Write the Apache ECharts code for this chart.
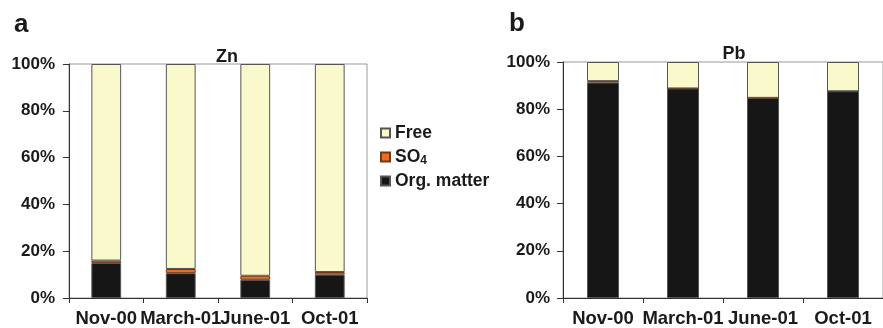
<!DOCTYPE html>
<html>
<head>
<meta charset="utf-8">
<script src="https://cdn.jsdelivr.net/npm/echarts@6/dist/echarts.min.js"></script>
<style>html,body{margin:0;padding:0;background:#fff}#c{width:883px;height:328px}</style>
</head>
<body>
<div id="c"></div>
<script>
var categories = ['Nov-00', 'March-01', 'June-01', 'Oct-01'];
var yTicks = [0, 20, 40, 60, 80, 100];
// Zn (panel a), percent
var znOrg = [15.0, 10.6, 7.8, 10.0];
var znSO4 = [1.0, 1.8, 1.7, 1.1];
var znFree = [84.0, 87.6, 90.5, 88.9];
// Pb (panel b), percent
var pbOrg = [91.3, 88.8, 84.8, 87.6];
var pbSO4 = [0.6, 0.0, 0.0, 0.0];
var pbFree = [8.1, 11.2, 15.2, 12.4];

var FONT = 'Liberation Sans, Arial, sans-serif';
var TXT = '#1a1a1a';
var colFree = '#FAF9CC', colSO4 = '#F26A21', colOrg = '#161616';

function xAxis(idx) {
  return {
    type: 'category', gridIndex: idx, data: categories,
    axisLine: {lineStyle: {color: '#333', width: 1}},
    axisTick: {show: true, alignWithLabel: false, length: 5, lineStyle: {color: '#333'}},
    axisLabel: {color: TXT, fontFamily: FONT, fontWeight: 'bold', fontSize: 18.5, margin: 11, interval: 0}
  };
}
function yAxis(idx, m) {
  return {
    type: 'value', gridIndex: idx, min: yTicks[0], max: yTicks[yTicks.length - 1], interval: 20,
    axisLine: {show: true, lineStyle: {color: '#333', width: 1}},
    axisTick: {show: true, length: 6, lineStyle: {color: '#333'}},
    splitLine: {show: false},
    axisLabel: {color: TXT, fontFamily: FONT, fontWeight: 'bold', fontSize: 17, margin: m, formatter: '{value}%'}
  };
}
function bar(name, data, idx, color, border) {
  return {
    name: name, type: 'bar', stack: 's' + idx, xAxisIndex: idx, yAxisIndex: idx,
    data: data, barWidth: '40%',
    itemStyle: {color: color, borderColor: border, borderWidth: 1},
    emphasis: {disabled: true}
  };
}

var chart = echarts.init(document.getElementById('c'));
chart.setOption({
  animation: false,
  title: [
    {text: 'a', left: 9, top: 7, textStyle: {fontFamily: FONT, fontWeight: 'bold', fontSize: 26, color: TXT}},
    {text: 'b', left: 504, top: 6, textStyle: {fontFamily: FONT, fontWeight: 'bold', fontSize: 26, color: TXT}},
    {text: 'Zn', left: 222, top: 43, textAlign: 'center', textStyle: {fontFamily: FONT, fontWeight: 'bold', fontSize: 18, color: TXT}},
    {text: 'Pb', left: 729, top: 40, textAlign: 'center', textStyle: {fontFamily: FONT, fontWeight: 'bold', fontSize: 18, color: TXT}}
  ],
  legend: {
    orient: 'vertical', left: 380, top: 123, itemWidth: 9, itemHeight: 9, itemGap: 4, padding: 0,
    icon: 'rect', selectedMode: false,
    data: ['Free', 'SO4', 'Org. matter'],
    formatter: function (n) { return n === 'SO4' ? 'SO{sub|4}' : n; },
    textStyle: {
      fontFamily: FONT, fontWeight: 'bold', fontSize: 17.5, color: TXT, lineHeight: 20, padding: [0, 0, 0, 0],
      rich: {sub: {fontFamily: FONT, fontWeight: 'bold', fontSize: 12, color: TXT, verticalAlign: 'bottom', padding: [8, 0, 0, 0], lineHeight: 20}}
    }
  },
  grid: [
    {left: 69, top: 64, width: 298, height: 237, show: true, borderColor: '#999', borderWidth: 1},
    {left: 563, top: 62, width: 325, height: 239, show: true, borderColor: '#999', borderWidth: 1}
  ],
  xAxis: [xAxis(0), xAxis(1)],
  yAxis: [yAxis(0, 14), yAxis(1, 13)],
  series: [
    bar('Org. matter', znOrg, 0, colOrg, '#555'),
    bar('SO4', znSO4, 0, colSO4, '#6b3a1a'),
    bar('Free', znFree, 0, colFree, '#555'),
    bar('Org. matter', pbOrg, 1, colOrg, '#555'),
    bar('SO4', pbSO4, 1, colSO4, '#6b3a1a'),
    bar('Free', pbFree, 1, colFree, '#555')
  ]
});
</script>
</body>
</html>
